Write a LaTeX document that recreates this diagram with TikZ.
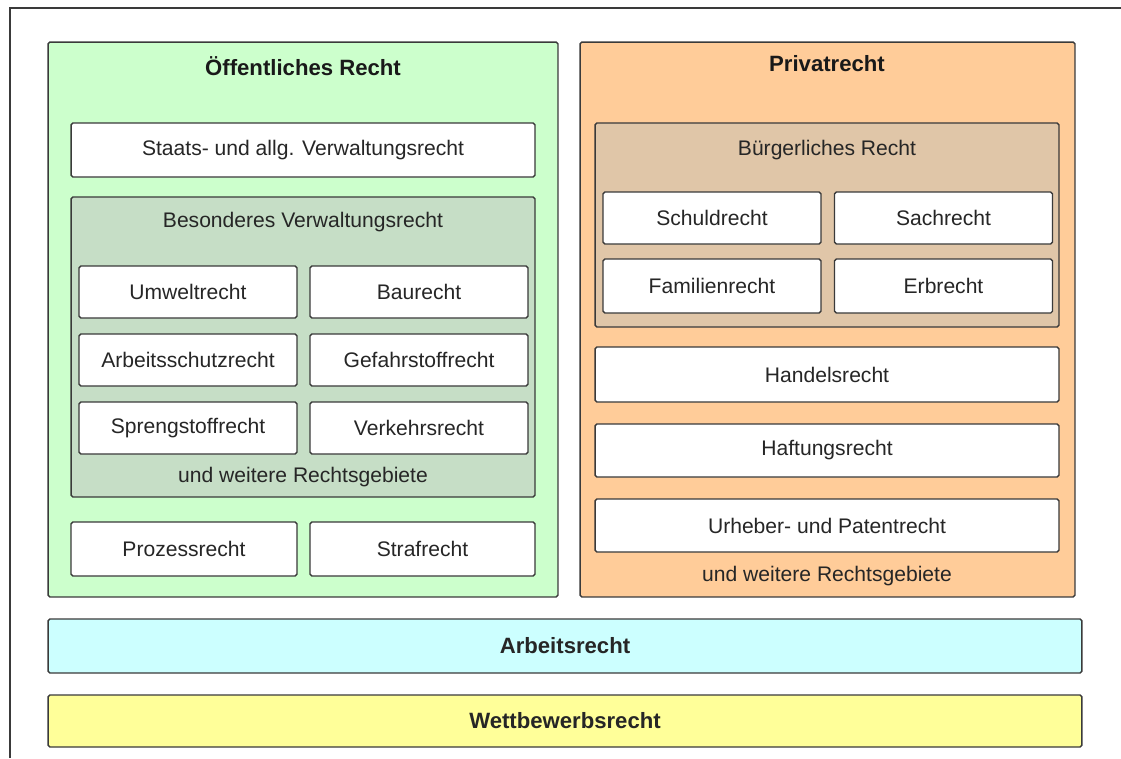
\documentclass[tikz,border=0pt]{standalone}
\usepackage{fontspec}
\setmainfont{Liberation Sans}
\definecolor{oeffgruen}{HTML}{CCFFCC}
\definecolor{besgruen}{HTML}{C6DEC6}
\definecolor{privorange}{HTML}{FFCC99}
\definecolor{buergtan}{HTML}{E0C6A8}
\definecolor{arbcyan}{HTML}{CCFFFF}
\definecolor{wettgelb}{HTML}{FFFF99}
\definecolor{rahmen}{HTML}{3A3A3A}
\begin{document}
\begin{tikzpicture}[x=0.02cm, y=-0.02cm,
    box/.style={rectangle, draw=rahmen, line width=0.8pt, rounded corners=1pt, fill=white, align=center, font=\fontsize{12}{14}\selectfont, text=black!85},
    smallbox/.style={box, minimum width=4.36cm, minimum height=1.04cm},
    group/.style={rectangle, draw=rahmen, line width=0.8pt, rounded corners=1pt},
    label/.style={font=\fontsize{12}{14}\selectfont, text=black!85},
    title/.style={font=\fontsize{12.6}{14}\selectfont\bfseries, text=black!90}
  ]
    \useasboundingbox (0,0) rectangle (1121,758);
    \draw[rahmen, line width=1pt] (10,758) -- (10,8) -- (1121,8);

    % Oeffentliches Recht
    \node[group, fill=oeffgruen, minimum width=10.2cm, minimum height=11.1cm] (oeff) at (303,319.5) {};
    \node[title] (oefftitel) at (303,66) {Öffentliches Recht};
    \node[box, minimum width=9.28cm, minimum height=1.08cm] (staats) at (303,150) {Staats- und allg. Verwaltungsrecht};

    % Besonderes Verwaltungsrecht
    \node[group, fill=besgruen, minimum width=9.28cm, minimum height=6cm] (besonders) at (303,347) {};
    \node[label] (bestitel) at (303,222) {Besonderes Verwaltungsrecht};
    \node[smallbox] (umwelt) at (188,292) {Umweltrecht};
    \node[smallbox] (bau) at (419,292) {Baurecht};
    \node[smallbox] (arbschutz) at (188,360) {Arbeitsschutzrecht};
    \node[smallbox] (gefahr) at (419,360) {Gefahrstoffrecht};
    \node[smallbox] (spreng) at (188,428) {Sprengstoffrecht};
    \node[smallbox] (verkehr) at (419,428) {Verkehrsrecht};
    \node[label] (besweitere) at (303,477) {und weitere Rechtsgebiete};

    \node[box, minimum width=4.52cm, minimum height=1.08cm] (prozess) at (184,549) {Prozessrecht};
    \node[box, minimum width=4.5cm, minimum height=1.08cm] (straf) at (422.5,549) {Strafrecht};

    % Privatrecht
    \node[group, fill=privorange, minimum width=9.9cm, minimum height=11.1cm] (priv) at (827.5,319.5) {};
    \node[title] (privtitel) at (827,64) {Privatrecht};

    % Buergerliches Recht
    \node[group, fill=buergtan, minimum width=9.28cm, minimum height=4.08cm] (buerg) at (827,225) {};
    \node[label] (buergtitel) at (827,150) {Bürgerliches Recht};
    \node[smallbox] (schuld) at (712,218) {Schuldrecht};
    \node[smallbox] (sach) at (943.5,218) {Sachrecht};
    \node[smallbox, minimum height=1.08cm] (familie) at (712,286) {Familienrecht};
    \node[smallbox, minimum height=1.08cm] (erb) at (943.5,286) {Erbrecht};

    \node[box, minimum width=9.28cm, minimum height=1.1cm] (handel) at (827,374.5) {Handelsrecht};
    \node[box, minimum width=9.28cm, minimum height=1.06cm] (haftung) at (827,450.5) {Haftungsrecht};
    \node[box, minimum width=9.28cm, minimum height=1.06cm] (urheber) at (827,525.5) {Urheber- und Patentrecht};
    \node[label] (privweitere) at (827,576) {und weitere Rechtsgebiete};

    % Querschnitt
    \node[box, fill=arbcyan, minimum width=20.68cm, minimum height=1.08cm, font=\fontsize{12.6}{14}\selectfont\bfseries] (arbeit) at (565,646) {Arbeitsrecht};
    \node[box, fill=wettgelb, minimum width=20.68cm, minimum height=1.04cm, font=\fontsize{12.6}{14}\selectfont\bfseries] (wettbewerb) at (565,721) {Wettbewerbsrecht};
  \end{tikzpicture}
\end{document}
